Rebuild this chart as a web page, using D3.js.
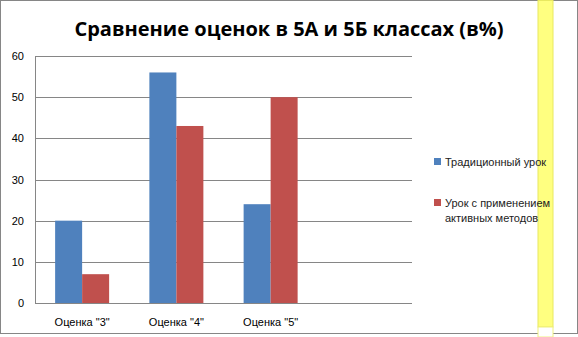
<!DOCTYPE html>
<html><head><meta charset="utf-8">
<script src="https://cdn.jsdelivr.net/npm/d3@7/dist/d3.min.js"></script>
<style>body{margin:0;background:#fff}svg{display:block}</style>
</head><body>
<script>
const categories = ['Оценка "3"', 'Оценка "4"', 'Оценка "5"', ''];
const seriesNames = ["Традиционный урок", "Урок с применением активных методов"];
const traditional = [20, 56, 24];
const active = [7, 43, 50];
const yTicks = [0, 10, 20, 30, 40, 50, 60];
const title = "Сравнение оценок в 5А и 5Б классах (в%)";
const colors = ["#4F81BD", "#C0504D"];

const W = 578, H = 337;
const svg = d3.select("body").append("svg").attr("width", W).attr("height", H);
const font = "'Liberation Sans', Arial, sans-serif";

// outer border
svg.append("rect").attr("x", 0.5).attr("y", 0.5).attr("width", W - 1).attr("height", 333)
  .attr("fill", "#fff").attr("stroke", "#868686");

// yellow band (behind text)
svg.append("rect").attr("x", 538).attr("y", 0.5).attr("width", 15).attr("height", 326.5)
  .attr("fill", "#FFFF80").attr("stroke", "#E8E860");
svg.append("rect").attr("x", 538).attr("y", 327).attr("width", 15).attr("height", 10)
  .attr("fill", "#fff").attr("stroke", "#F0F080");

const x0 = d3.scaleBand().domain(categories).range([35, 412]);
const y = d3.scaleLinear().domain([0, 60]).range([303, 56]);

// gridlines
svg.append("g").selectAll("line").data(yTicks).join("line")
  .attr("x1", 35).attr("x2", 412)
  .attr("y1", d => Math.round(y(d)) + 0.5).attr("y2", d => Math.round(y(d)) + 0.5)
  .attr("stroke", "#868686");
svg.append("line").attr("x1", 35.5).attr("x2", 35.5).attr("y1", y(60)).attr("y2", y(0) + 0.5)
  .attr("stroke", "#868686");

// y tick labels
svg.append("g").selectAll("text").data(yTicks).join("text")
  .attr("x", 24).attr("y", d => y(d) + 4).attr("text-anchor", "end")
  .attr("font-family", font).attr("font-size", 11).attr("fill", "#000").text(d => d);

// bars
const barW = 27;
const data = [traditional, active];
data.forEach((s, si) => {
  svg.append("g").selectAll("rect").data(s).join("rect")
    .attr("x", (d, i) => x0(categories[i]) + x0.bandwidth() / 2 - barW + si * barW)
    .attr("width", barW)
    .attr("y", d => y(d)).attr("height", d => y(0) - y(d))
    .attr("fill", colors[si]);
});

// x labels
svg.append("g").selectAll("text").data(categories).join("text")
  .attr("x", d => x0(d) + x0.bandwidth() / 2).attr("y", 326).attr("text-anchor", "middle")
  .attr("font-family", font).attr("font-size", 11).attr("fill", "#000").text(d => d);

// title
svg.append("text").attr("x", 289).attr("y", 36).attr("text-anchor", "middle")
  .attr("font-family", "'Open Sans', sans-serif").attr("font-weight", "bold").attr("font-size", 20)
  .attr("fill", "#000").text(title);

// legend
const leg = svg.append("g");
leg.append("rect").attr("x", 434).attr("y", 158).attr("width", 7).attr("height", 7).attr("fill", colors[0]);
leg.append("text").attr("x", 445).attr("y", 166).attr("font-family", font).attr("font-size", 11)
  .attr("fill", "#222").text(seriesNames[0]);
leg.append("rect").attr("x", 434).attr("y", 199).attr("width", 7).attr("height", 7).attr("fill", colors[1]);
leg.append("text").attr("font-family", font).attr("font-size", 11).attr("fill", "#222")
  .selectAll("tspan").data(["Урок с применением", "активных методов"]).join("tspan")
  .attr("x", 445).attr("y", (d, i) => 207 + i * 15).text(d => d);
</script>
</body></html>
